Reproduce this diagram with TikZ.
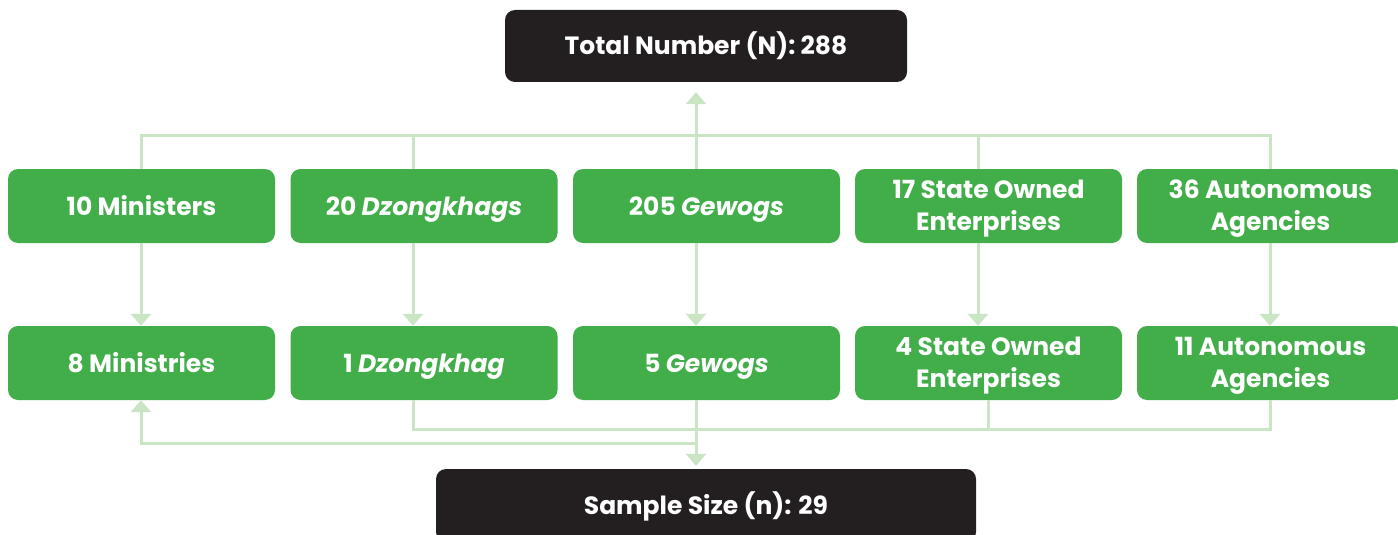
\documentclass[tikz,border=0pt]{standalone}
\usepackage{fontspec}
\setmainfont{Poppins}
\usetikzlibrary{arrows.meta}
\definecolor{boxgreen}{HTML}{41AE4A}
\definecolor{boxdark}{HTML}{231F20}
\definecolor{linkgreen}{HTML}{C9E5C4}
\tikzset{
  label font/.style={font=\fontsize{25}{32}\selectfont\bfseries},
  gbox/.style={fill=boxgreen, rounded corners=10pt, minimum width=267pt, minimum height=74pt,
    text=white, label font, align=center, inner sep=0pt},
  oneline/.style={text height=21pt, text depth=3pt},
  twoline/.style={text height=52pt, text depth=3pt},
  dbox/.style={fill=boxdark, rounded corners=10pt, text=white, label font, align=center,
    inner sep=0pt, oneline},
  conn/.style={draw=linkgreen, line width=3pt},
  tip/.style={conn, -{Triangle[width=20pt,length=12pt]}}
}
\begin{document}
\begin{tikzpicture}[x=1pt,y=-1pt]
\useasboundingbox (0,0) rectangle (1398,535);
\clip (0,0) rectangle (1398,535);
% summary boxes
\node[dbox, minimum width=402pt, minimum height=72pt] (top) at (706,46) {Total Number (N): 288};
\node[dbox, minimum width=540pt, minimum height=73pt] (sample) at (706,505.5) {Sample Size (n): 29};
% population row
\node[gbox, oneline] (m1) at (141.5,206) {10 Ministers};
\node[gbox, oneline] (m2) at (424,206) {20 \textit{Dzongkhags}};
\node[gbox, oneline] (m3) at (706.5,206) {205 \textit{Gewogs}};
\node[gbox, twoline] (m4) at (988.5,206) {17 State Owned\\Enterprises};
\node[gbox, twoline] (m5) at (1270.5,206) {36 Autonomous\\Agencies};
% sample row
\node[gbox, oneline] (s1) at (141.5,363) {8 Ministries};
\node[gbox, oneline] (s2) at (424,363) {1 \textit{Dzongkhag}};
\node[gbox, oneline] (s3) at (706.5,363) {5 \textit{Gewogs}};
\node[gbox, twoline] (s4) at (988.5,363) {4 State Owned\\Enterprises};
\node[gbox, twoline] (s5) at (1270.5,363) {11 Autonomous\\Agencies};
% connector columns and buses
\coordinate (c1) at (141,0);
\coordinate (c2) at (413,0);
\coordinate (c3) at (696,0);
\coordinate (c4) at (978,0);
\coordinate (c5) at (1270,0);
\coordinate (d4) at (988,0);
\coordinate (busT) at (696,135);
\coordinate (busA) at (0,429);
\coordinate (busB) at (0,443);
% upper bus towards the total
\draw[conn] (c1 |- m1.north) -- (c1 |- busT) -- (c5 |- busT) -- (c5 |- m5.north);
\draw[conn] (c2 |- m2.north) -- (c2 |- busT);
\draw[conn] (c4 |- m4.north) -- (c4 |- busT);
\draw[tip] (c3 |- m3.north) -- (busT) -- ([yshift=-10pt]c3 |- top.south);
% population to sample
\draw[tip] (c1 |- m1.south) -- (c1 |- s1.north);
\draw[tip] (c2 |- m2.south) -- (c2 |- s2.north);
\draw[tip] (c3 |- m3.south) -- (c3 |- s3.north);
\draw[tip] (c4 |- m4.south) -- (c4 |- s4.north);
\draw[tip] (c5 |- m5.south) -- (c5 |- s5.north);
% lower buses towards the sample size
\draw[conn] (c2 |- s2.south) -- (c2 |- busA) -- (c5 |- busA) -- (c5 |- s5.south);
\draw[conn] (d4 |- s4.south) -- (d4 |- busA);
\draw[tip] (c3 |- s3.south) -- ([yshift=3pt]c3 |- sample.north);
\draw[tip] (c3 |- busB) -- (c1 |- busB) -- (c1 |- s1.south);
\end{tikzpicture}
\end{document}
